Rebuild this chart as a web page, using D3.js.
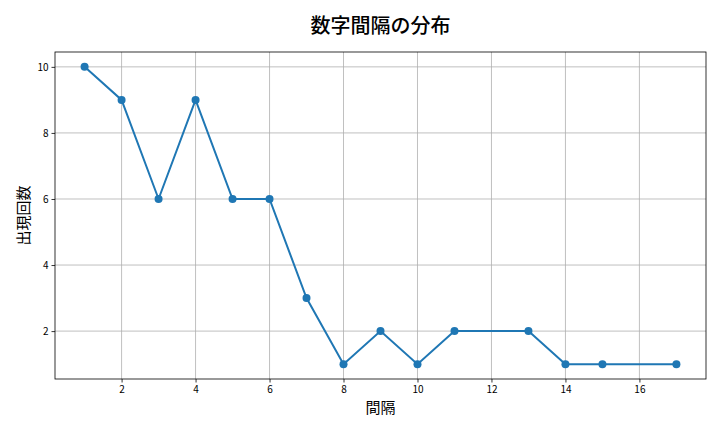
<!DOCTYPE html>
<html>
<head>
<meta charset="utf-8">
<script src="https://cdn.jsdelivr.net/npm/d3@7"></script>
<style>
  body { margin: 0; background: #fff; }
  text { font-family: "Noto Sans CJK JP", "DejaVu Sans", sans-serif; }
</style>
</head>
<body>
<div id="chart"></div>
<script>
var gaps = [1, 2, 3, 4, 5, 6, 7, 8, 9, 10, 11, 13, 14, 15, 17];
var counts = [10, 9, 6, 9, 6, 6, 3, 1, 2, 1, 2, 2, 1, 1, 1];
var xTicks = [2, 4, 6, 8, 10, 12, 14, 16];
var yTicks = [2, 4, 6, 8, 10];

var width = 720, height = 432;
var margin = {left: 55, right: 14, top: 52, bottom: 53};

var svg = d3.select('#chart').append('svg')
    .attr('width', width)
    .attr('height', height);

var x = d3.scaleLinear()
    .domain([0.2, 17.8])
    .range([margin.left, width - margin.right]);

var y = d3.scaleLinear()
    .domain([0.55, 10.45])
    .range([height - margin.bottom, margin.top]);

// grid
svg.append('g').selectAll('line')
    .data(xTicks)
    .enter().append('line')
    .attr('x1', function(d){ return x(d); })
    .attr('x2', function(d){ return x(d); })
    .attr('y1', margin.top)
    .attr('y2', height - margin.bottom)
    .attr('stroke', '#b0b0b0')
    .attr('stroke-width', 0.8);

svg.append('g').selectAll('line')
    .data(yTicks)
    .enter().append('line')
    .attr('x1', margin.left)
    .attr('x2', width - margin.right)
    .attr('y1', function(d){ return y(d); })
    .attr('y2', function(d){ return y(d); })
    .attr('stroke', '#b0b0b0')
    .attr('stroke-width', 0.8);

// axes
var xAxis = svg.append('g')
    .attr('transform', 'translate(0,' + (height - margin.bottom) + ')')
    .call(d3.axisBottom(x).tickValues(xTicks).tickSize(3.5).tickPadding(3));
var yAxis = svg.append('g')
    .attr('transform', 'translate(' + margin.left + ',0)')
    .call(d3.axisLeft(y).tickValues(yTicks).tickSize(3.5).tickPadding(3));

[xAxis, yAxis].forEach(function(a){
    a.select('.domain').remove();
    a.selectAll('text').attr('font-size', 10).attr('fill', '#000')
        .style('font-family', '"Noto Sans CJK JP", sans-serif');
    a.selectAll('line').attr('stroke', '#000').attr('stroke-width', 0.8);
});

// frame
svg.append('rect')
    .attr('x', margin.left)
    .attr('y', margin.top)
    .attr('width', width - margin.left - margin.right)
    .attr('height', height - margin.top - margin.bottom)
    .attr('fill', 'none')
    .attr('stroke', '#000')
    .attr('stroke-width', 0.8);

// line + markers
var pts = gaps.map(function(g, i){ return [g, counts[i]]; });

svg.append('path')
    .datum(pts)
    .attr('fill', 'none')
    .attr('stroke', '#1f77b4')
    .attr('stroke-width', 2)
    .attr('d', d3.line()
        .x(function(d){ return x(d[0]); })
        .y(function(d){ return y(d[1]); }));

svg.append('g').selectAll('circle')
    .data(pts)
    .enter().append('circle')
    .attr('cx', function(d){ return x(d[0]); })
    .attr('cy', function(d){ return y(d[1]); })
    .attr('r', 4)
    .attr('fill', '#1f77b4');

// labels
svg.append('text')
    .attr('x', (margin.left + width - margin.right) / 2)
    .attr('y', 33)
    .attr('text-anchor', 'middle')
    .attr('font-size', 20)
    .attr('font-weight', 500)
    .text('数字間隔の分布');

svg.append('text')
    .attr('x', (margin.left + width - margin.right) / 2)
    .attr('y', 413)
    .attr('text-anchor', 'middle')
    .attr('font-size', 15)
    .text('間隔');

svg.append('text')
    .attr('transform', 'translate(29,' + ((margin.top + height - margin.bottom) / 2) + ') rotate(-90)')
    .attr('text-anchor', 'middle')
    .attr('font-size', 15)
    .text('出現回数');
</script>
</body>
</html>
